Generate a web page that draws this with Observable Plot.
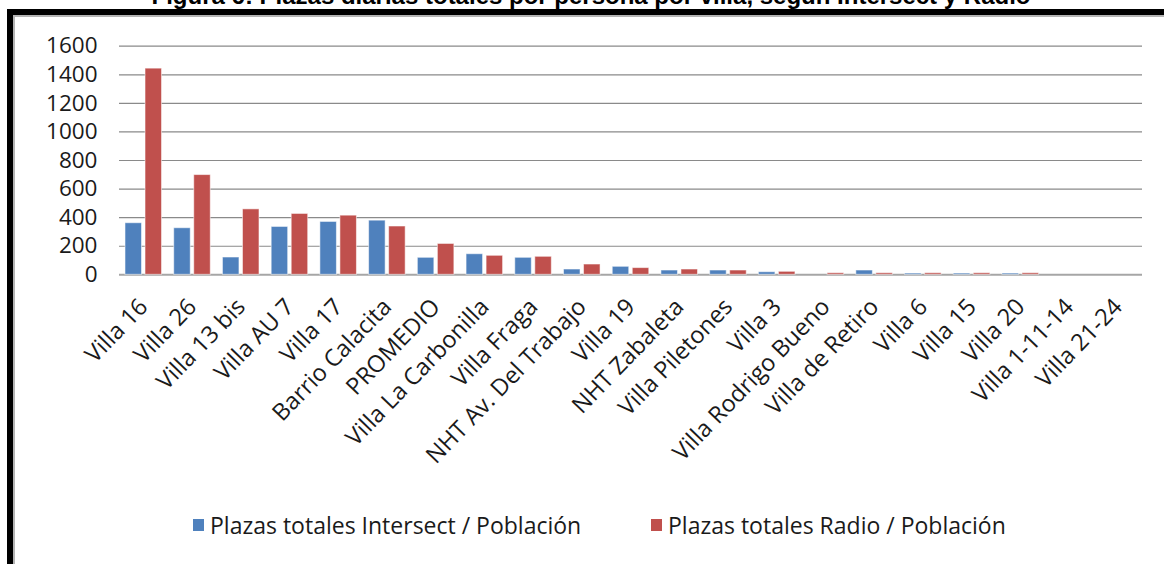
<!DOCTYPE html>
<html>
<head>
<meta charset="utf-8">
<script src="https://cdn.jsdelivr.net/npm/d3@7"></script>
<script src="https://cdn.jsdelivr.net/npm/@observablehq/plot@0.6"></script>
<style>
  html, body { margin: 0; padding: 0; background: #fff; }
  body { width: 1164px; height: 564px; position: relative; overflow: hidden; font-family: "Open Sans", sans-serif; }
  #title { position: absolute; left: 9px; width: 1164px; top: -18px; line-height: 27px; text-align: center;
           font-family: "Liberation Sans", Arial, sans-serif; font-weight: bold; font-size: 24px; color: #000; white-space: nowrap; }
  #frameBlack { position: absolute; left: 7px; top: 9px; right: 0; bottom: 0; border-top: 6px solid #000; border-left: 6px solid #000; z-index: 2; }
  #frameGray { position: absolute; left: 13px; top: 15px; right: 0; bottom: 0; border-top: 2px solid #b4b4b4; border-left: 2px solid #b4b4b4; z-index: 2; }
  #back, #front { position: absolute; left: 0; top: 0; }
  .legend-item { position: absolute; top: 509px; line-height: 32px; display: flex; align-items: center; font-size: 23px; color: #1a1a1a; white-space: nowrap; }
  .legend-item .sw { width: 11px; height: 12px; margin-right: 6px; }
</style>
</head>
<body>
<div id="title"></div>
<div id="back"></div>
<div id="front"></div>
<div id="frameBlack"></div>
<div id="frameGray"></div>
<div id="legend"></div>
<script>
const titleText = "Figura 6: Plazas diarias totales por persona por villa, según Intersect y Radio";
const categories = ["Villa 16", "Villa 26", "Villa 13 bis", "Villa AU 7", "Villa 17", "Barrio Calacita", "PROMEDIO",
  "Villa La Carbonilla", "Villa Fraga", "NHT Av. Del Trabajo", "Villa 19", "NHT Zabaleta", "Villa Piletones", "Villa 3",
  "Villa Rodrigo Bueno", "Villa de Retiro", "Villa 6", "Villa 15", "Villa 20", "Villa 1-11-14", "Villa 21-24"];
const intersectValues = [361, 326, 121, 335, 370, 379, 119, 144, 119, 37, 56, 30, 30, 18, 0, 30, 9, 9, 9, 0, 0];
const radioValues = [1443, 698, 458, 426, 414, 338, 216, 133, 126, 72, 47, 37, 30, 21, 11, 11, 11, 11, 11, 0, 0];
const seriesNames = ["Plazas totales Intersect / Población", "Plazas totales Radio / Población"];
const seriesColors = ["#4F81BD", "#C0504D"];
const yTicks = [0, 200, 400, 600, 800, 1000, 1200, 1400, 1600];

document.getElementById("title").textContent = titleText;

const rows = [];
categories.forEach((c, i) => {
  rows.push({cat: c, series: seriesNames[0], value: intersectValues[i]});
  rows.push({cat: c, series: seriesNames[1], value: radioValues[i]});
});

const common = {
  width: 1164,
  height: 490,
  marginLeft: 119,
  marginRight: 22,
  marginTop: 45.7,
  marginBottom: 215.7
};

// background layer: y axis, gridlines, baseline (spanning full frame)
const back = Plot.plot({
  ...common,
  style: {fontFamily: "Open Sans, sans-serif", fontSize: "22.5px", color: "#1a1a1a", background: "transparent"},
  x: {domain: categories, axis: null},
  y: {domain: [0, 1600], ticks: yTicks, tickFormat: d => String(d), tickSize: 0, tickPadding: 22, label: null},
  marks: [
    Plot.ruleY(yTicks.filter(d => d > 0), {stroke: "#8a8a8a", strokeWidth: 1.2}),
    Plot.ruleY([0], {stroke: "#a6a6a6", strokeWidth: 2})
  ]
});
document.getElementById("back").appendChild(back);

// foreground layer: grouped bars and category axis
const front = Plot.plot({
  ...common,
  style: {fontFamily: "Open Sans, sans-serif", fontSize: "23.5px", color: "#1a1a1a", background: "transparent"},
  facet: {data: rows, x: "cat"},
  fx: {domain: categories, paddingInner: 0.25, paddingOuter: 0.123, round: false, label: null, axis: "bottom",
       tickRotate: -46, tickSize: 0, tickPadding: 28},
  x: {domain: seriesNames, paddingInner: 0.175, paddingOuter: 0, round: false, axis: null},
  y: {domain: [0, 1600], axis: null},
  color: {domain: seriesNames, range: seriesColors},
  marks: [
    Plot.barY(rows, {filter: d => d.value > 0, x: "series", y: "value", fill: "series",
      stroke: "#ffffff", strokeOpacity: 0.55, strokeWidth: 1})
  ]
});
document.getElementById("front").appendChild(front);

const legend = document.getElementById("legend");
const legendLefts = [193, 651];
seriesNames.forEach((name, i) => {
  const item = document.createElement("div");
  item.className = "legend-item";
  item.style.left = legendLefts[i] + "px";
  const sw = document.createElement("span");
  sw.className = "sw";
  sw.style.background = seriesColors[i];
  const t = document.createElement("span");
  t.textContent = name;
  item.appendChild(sw);
  item.appendChild(t);
  legend.appendChild(item);
});
</script>
</body>
</html>
